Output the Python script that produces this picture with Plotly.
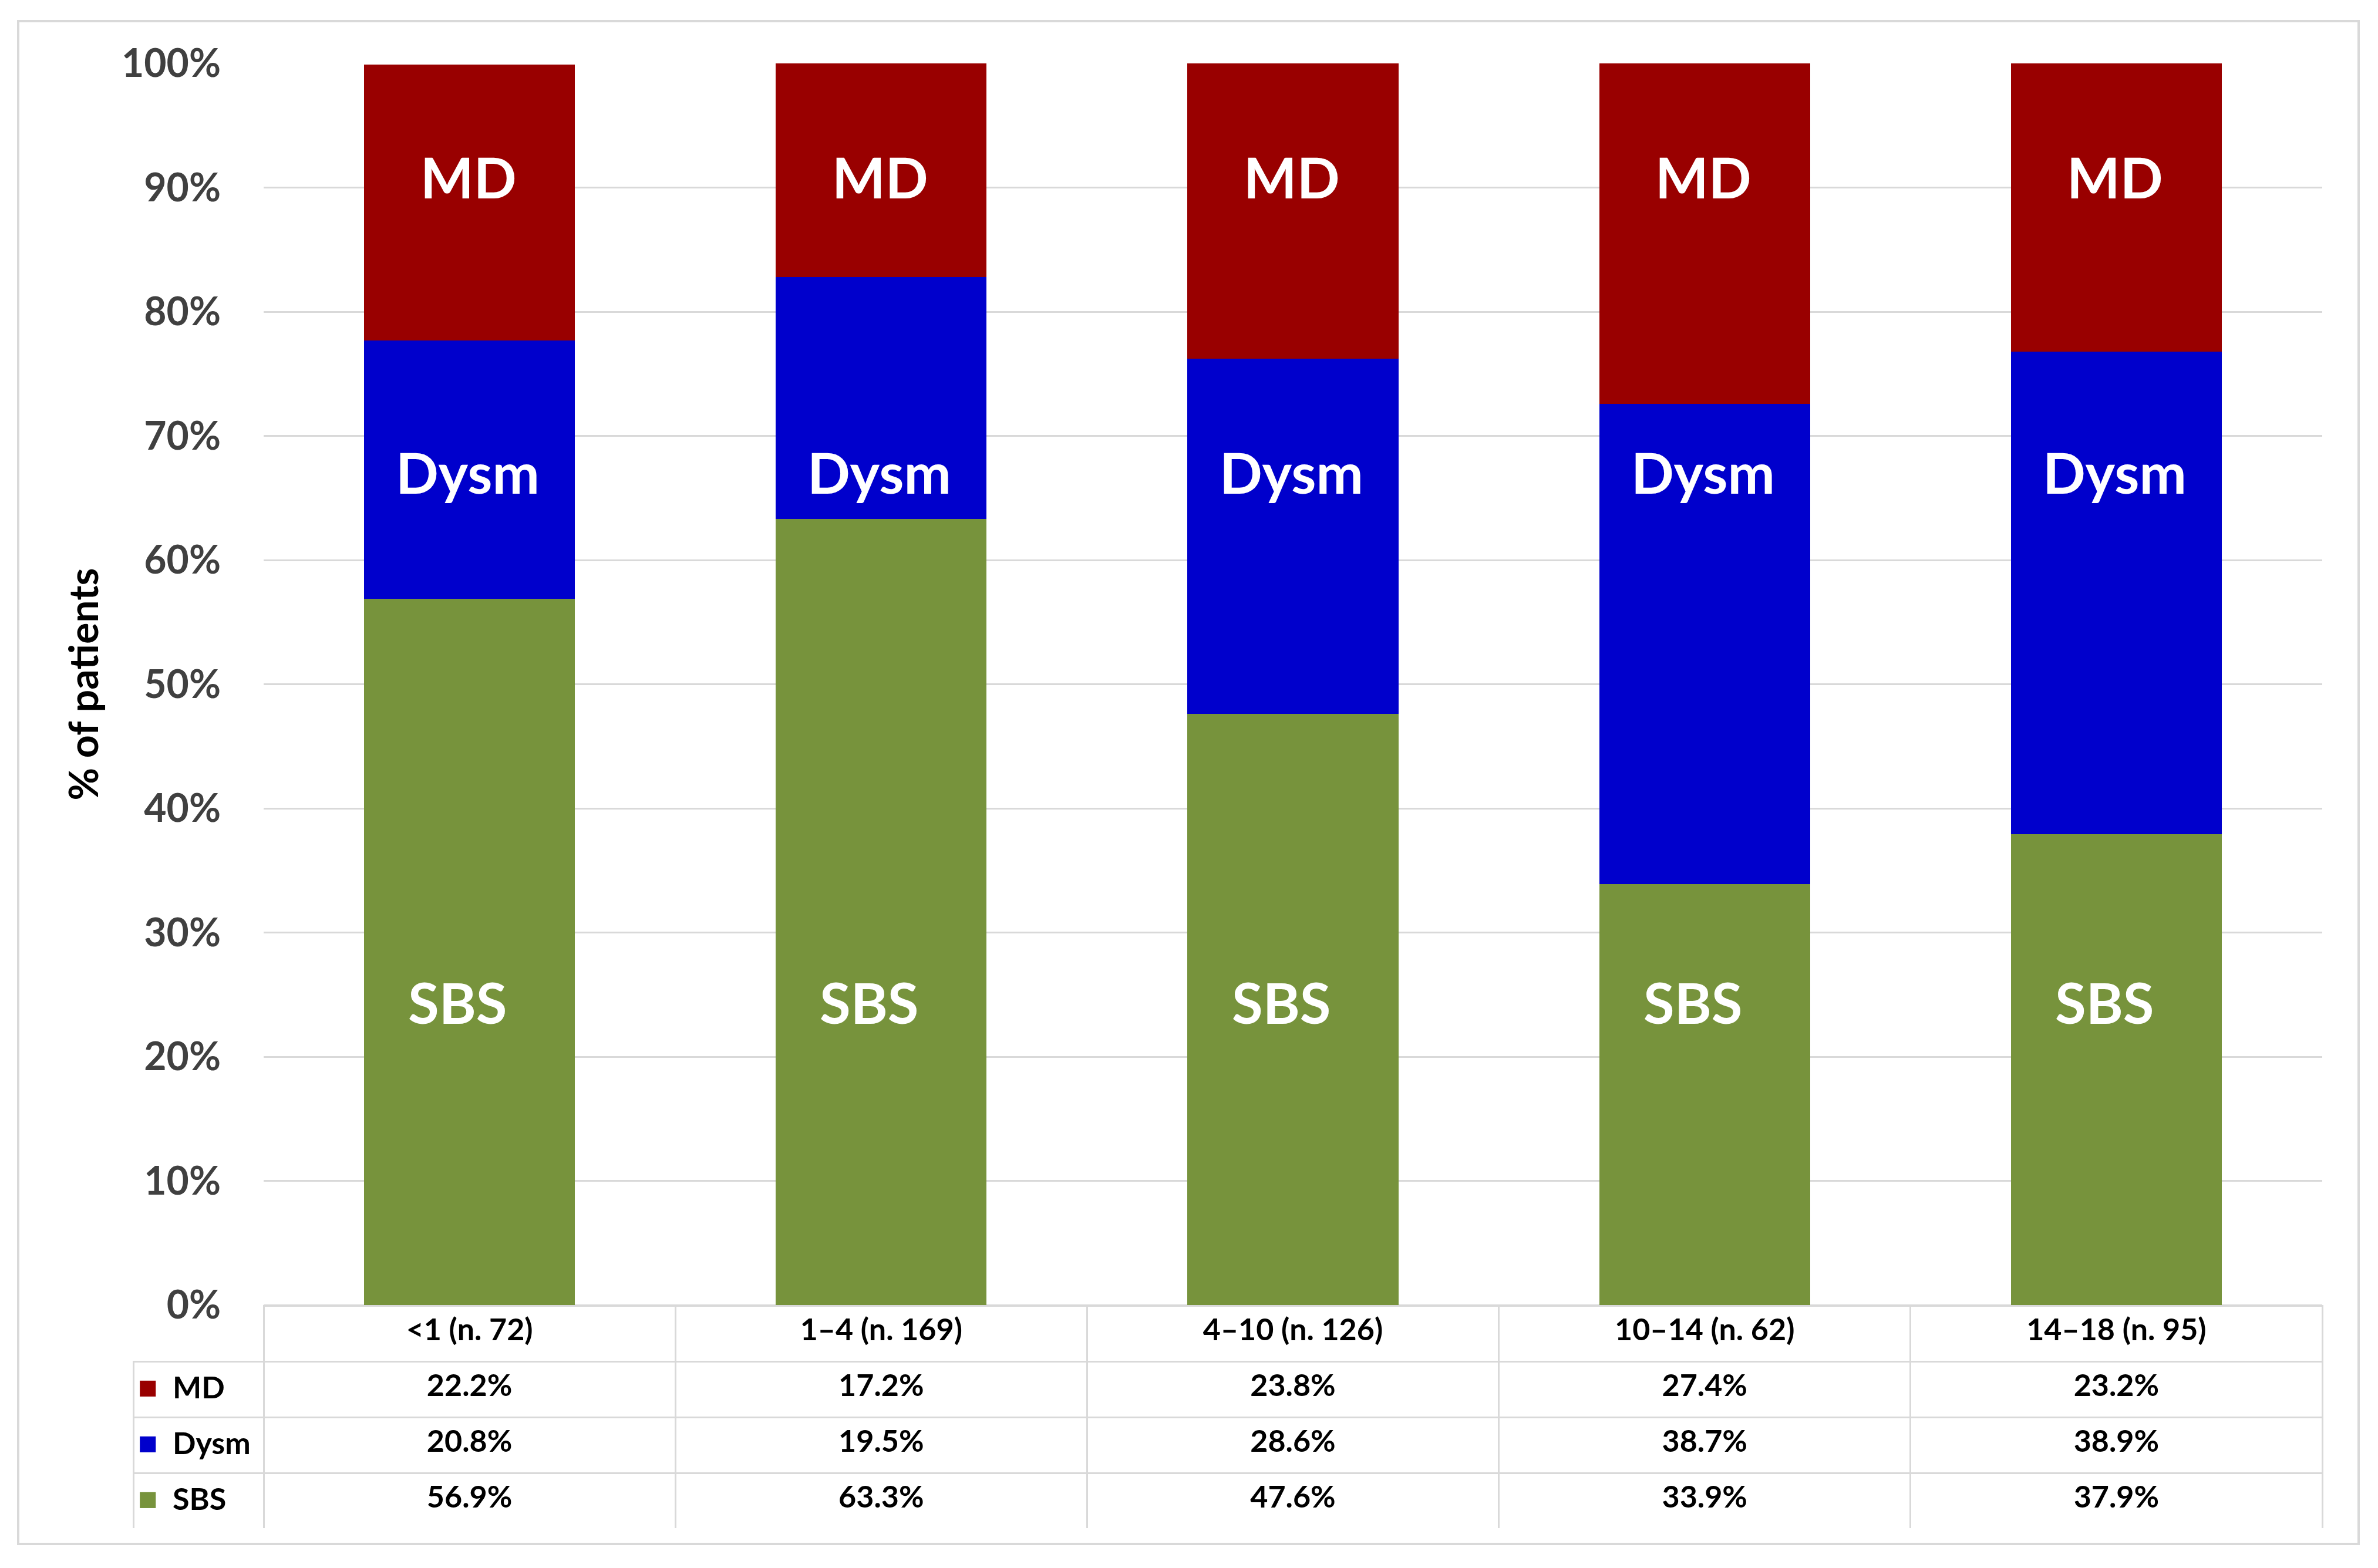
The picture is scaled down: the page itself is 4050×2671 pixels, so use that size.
import plotly.graph_objects as go

# ---------------- data ----------------
categories = ["<1 (n. 72)", "1–4 (n. 169)", "4–10 (n. 126)", "10–14 (n. 62)", "14–18 (n. 95)"]
series_names = ["MD", "Dysm", "SBS"]
md = [22.2, 17.2, 23.8, 27.4, 23.2]
dysm = [20.8, 19.5, 28.6, 38.7, 38.9]
sbs = [56.9, 63.3, 47.6, 33.9, 37.9]
y_ticks = [0, 10, 20, 30, 40, 50, 60, 70, 80, 90, 100]
y_tick_text = [f"{v}%" for v in y_ticks]

# ---------------- style ----------------
C_MD = "#990000"
C_DYSM = "#0000CC"
C_SBS = "#77933C"
GRID = "#D9D9D9"
FONT = "Lato, 'Open Sans', sans-serif"

W, H = 4050, 2671
OFF = 8  # default page body margin offset
M_L, M_R, M_T, M_B = 227 - OFF, 95 + OFF, 108 - OFF, 68 + OFF
plot_w = W - M_L - M_R
plot_h = H - M_T - M_B
first_col_px = 222
row_h = 95
table_frac = 4 * row_h / plot_h

# label positions (in % units) for in-bar labels
label_pos = {"MD": 90.9, "Dysm": 67.1, "SBS": 24.4}
label_shift = {"MD": -2, "Dysm": -3, "SBS": -20}

fig = go.Figure()
for name, vals, col in [("SBS", sbs, C_SBS), ("Dysm", dysm, C_DYSM), ("MD", md, C_MD)]:
    fig.add_trace(go.Bar(x=categories, y=vals, name=name, marker=dict(color=col, line=dict(width=0)),
                         showlegend=False, hoverinfo="x+y+name"))

# table below the chart
def esc(s):
    return s.replace("<", "&lt;")

col0 = [""] + [f"<span style='color:{c};font-size:56px'>■</span><b>  {n}</b><br>"
               for n, c in zip(series_names, [C_MD, C_DYSM, C_SBS])]
cols = [col0]
for i, cat in enumerate(categories):
    cols.append([f"<b>{esc(cat)}</b>", f"<b>{md[i]:.1f}%</b>", f"<b>{dysm[i]:.1f}%</b>", f"<b>{sbs[i]:.1f}%</b>"])

CLEAR = "rgba(0,0,0,0)"
line_colors = [[CLEAR, GRID, GRID, GRID]] + [[GRID] * 4 for _ in categories]
fill_colors = [[CLEAR, "white", "white", "white"]] + [["white"] * 4 for _ in categories]
aligns = ["left"] + ["center"] * len(categories)
col_w = (plot_w - first_col_px) / len(categories)

fig.add_trace(go.Table(
    domain=dict(x=[0, 1], y=[0, table_frac]),
    columnwidth=[first_col_px] + [col_w] * len(categories),
    header=dict(values=[""] * (len(categories) + 1), height=1,
                line=dict(width=0, color=CLEAR), fill=dict(color=CLEAR)),
    cells=dict(values=cols, height=row_h, align=aligns,
               line=dict(color=line_colors, width=3),
               fill=dict(color=fill_colors),
               font=dict(family=FONT, size=52, color="black")),
))

annotations = []
for i, cat in enumerate(categories):
    for n in series_names:
        annotations.append(dict(x=cat, y=label_pos[n], xref="x", yref="y", text=f"<b>{n}</b>",
                                showarrow=False, xshift=label_shift[n],
                                font=dict(family=FONT, size=96, color="white"),
                                xanchor="center", yanchor="middle"))

annotations.append(dict(x=(140 - 227) / plot_w, y=(table_frac + 1) / 2, xref="paper", yref="paper",
                        text="<b>% of patients</b>", textangle=-90, showarrow=False,
                        font=dict(family=FONT, size=68, color="black"),
                        xanchor="center", yanchor="middle"))

fig.update_layout(
    width=W, height=H,
    margin=dict(l=M_L, r=M_R, t=M_T, b=M_B),
    paper_bgcolor="white", plot_bgcolor="white",
    barmode="stack", bargap=0.488,
    annotations=annotations,
    shapes=[dict(type="rect", xref="paper", yref="paper",
                 x0=(31 - 227) / plot_w, x1=(4017 - 227) / plot_w,
                 y0=-(2630 - 2603) / plot_h, y1=1 + (108 - 36) / plot_h,
                 line=dict(color=GRID, width=4), fillcolor=CLEAR, layer="below")],
    xaxis=dict(domain=[first_col_px / plot_w, 1], showticklabels=False, showgrid=False,
               zeroline=False, showline=False, ticks=""),
    yaxis=dict(domain=[table_frac, 1], range=[0, 100], tickmode="array", tickvals=y_ticks,
               ticktext=y_tick_text,
               showgrid=True, gridcolor=GRID, gridwidth=3, zeroline=True, zerolinecolor=GRID,
               zerolinewidth=3, showline=False, ticks="", ticklabelstandoff=72,
               tickfont=dict(family=FONT, size=66, color="#404040", weight="bold")),
    font=dict(family=FONT),
)

fig.write_html("out.html")
